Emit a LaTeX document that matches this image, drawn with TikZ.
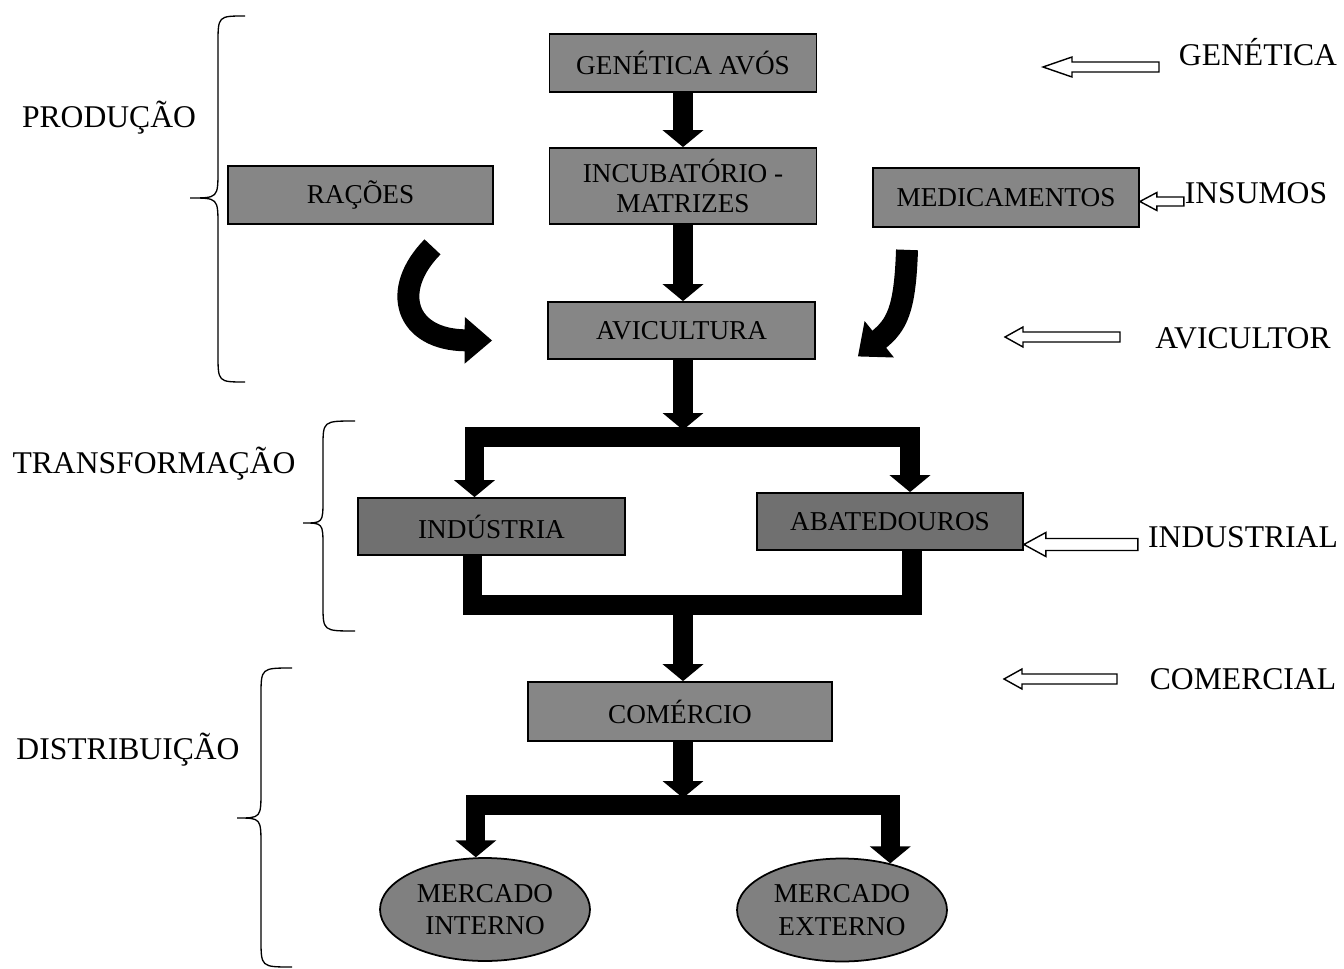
\documentclass[tikz,border=0pt]{standalone}
\usepackage{fontspec}
\setmainfont{Liberation Serif}
\usetikzlibrary{arrows.meta,shapes.geometric,calc}

\definecolor{boxgray}{RGB}{134,134,134}
\definecolor{boxdark}{RGB}{112,112,112}
\definecolor{ovalgray}{RGB}{128,128,128}

% open block arrow pointing left: #1 tip, #2 total length, #3 head length, #4 head half-height
\newcommand\hollowarrow[4]{%
  \draw[openarrow] (#1) -- ++(#3,-#4) -- ++(0,#4/2) -- ++(#2-#3,0) -- ++(0,#4)
    -- ++(-#2+#3,0) -- ++(0,#4/2) -- cycle;}

\begin{document}
\begin{tikzpicture}[x=0.02cm,y=-0.02cm,
  box/.style={draw=black,line width=1pt,fill=boxgray,inner sep=0pt,align=center,
    font=\fontsize{15.5}{17.5}\selectfont,minimum width=5.34cm,minimum height=1.16cm},
  oval/.style={ellipse,draw=black,line width=1pt,fill=ovalgray,inner sep=0pt,align=center,
    font=\fontsize{15.5}{18.5}\selectfont,minimum width=4.2cm,minimum height=2.06cm},
  sidelabel/.style={font=\fontsize{18}{21}\selectfont,inner sep=0pt},
  thickflow/.style={draw=black,line width=11pt,line join=miter},
  flowtip/.style={-{Triangle[width=8mm,length=3.4mm]}},
  bendtip/.style={-{Triangle[width=9mm,length=5.5mm]}},
  bracepath/.style={draw=black,line width=0.75pt},
  openarrow/.style={draw=black,fill=white,line width=0.8pt,line join=miter}]

\useasboundingbox (0,0) rectangle (1344,969);

% chain boxes
\node[box] (gen) at (683,63) {GENÉTICA AVÓS};
\node[box,minimum height=1.52cm] (inc) at (683,186) {INCUBATÓRIO -\\MATRIZES};
\node[box,minimum width=5.3cm] (rac) at (360.5,195) {RAÇÕES};
\node[box,minimum width=5.32cm,minimum height=1.18cm] (med) at (1006,197.5) {MEDICAMENTOS};
\node[box,minimum height=1.14cm] (avi) at (681.5,330.5) {AVICULTURA};
\node[box,fill=boxdark,minimum height=1.14cm] (ind) at (491.5,526.5) {INDÚSTRIA};
\node[box,fill=boxdark,minimum width=5.32cm,minimum height=1.14cm] (aba) at (890,521.5) {ABATEDOUROS};
\node[box,minimum width=6.08cm,minimum height=1.18cm] (com) at (680,711.5) {COMÉRCIO};
\node[oval] (int) at (485,909.5) {MERCADO\\INTERNO};
\node[oval] (ext) at (842,910) {MERCADO\\EXTERNO};

% stage labels and braces
\node[sidelabel] (lprod) at (109,118) {PRODUÇÃO};
\node[sidelabel] (ltrans) at (154,464) {TRANSFORMAÇÃO};
\node[sidelabel] (ldist) at (128,750) {DISTRIBUIÇÃO};

\draw[bracepath] (245,16) .. controls (218,16) .. (218,44) -- (218,170)
  .. controls (218,198) .. (190,198) .. controls (218,198) .. (218,226)
  -- (218,354) .. controls (218,382) .. (245,382);
\draw[bracepath] (355,421) .. controls (323,421) .. (323,447) -- (323,499)
  .. controls (323,523) .. (303,523) .. controls (323,523) .. (323,547)
  -- (323,605) .. controls (323,631) .. (355,631);
\draw[bracepath] (292,668) .. controls (261,668) .. (261,696) -- (261,790)
  .. controls (261,818) .. (237,818) .. controls (261,818) .. (261,846)
  -- (261,939) .. controls (261,967) .. (292,967);

% agent labels
\node[sidelabel] (lgen) at (1258,52) {GENÉTICA};
\node[sidelabel] (lins) at (1256,193) {INSUMOS};
\node[sidelabel] (lavi) at (1243,338) {AVICULTOR};
\node[sidelabel] (lindus) at (1243,537) {INDUSTRIAL};
\node[sidelabel] (lcom) at (1243,679) {COMERCIAL};

% open arrows from the agent labels
\coordinate (pgen) at (1043,67);
\coordinate (pavi) at (1005,337);
\coordinate (pcom) at (1004,679);
\hollowarrow{pgen}{116}{29}{10}
\hollowarrow{$(med.east)+(0,4)$}{44}{17}{9}
\hollowarrow{pavi}{115}{18}{10}
\hollowarrow{$(aba.east)+(0,23)$}{114}{22}{12}
\hollowarrow{pcom}{113}{18}{10}

% junctions of the main flow
\coordinate (j1) at (683,437);
\coordinate (j2) at (683,605);
\coordinate (j3) at (683,805);

% main flow
\draw[thickflow,flowtip] (gen) -- (inc);
\draw[thickflow,flowtip] (inc.south) -- (inc.south |- avi.north);
\draw[thickflow,flowtip] (avi.south -| j1) -- ($(j1)+(0,-7)$);
\draw[thickflow,flowtip] (j1) -| ($(ind.north)+(-17,0)$);
\draw[thickflow,flowtip] (j1) -| ($(aba.north)+(20,0)$);
\draw[thickflow] ($(ind.south)+(-19,0)$) |- (j2) -| ($(aba.south)+(22,0)$);
\draw[thickflow,flowtip] (j2) -- (j2 |- com.north);
\draw[thickflow,flowtip] (com.south -| j3) -- ($(j3)+(0,-7)$);
\draw[thickflow,flowtip] (j3) -| (int.100);
\draw[thickflow,flowtip] (j3) -| (ext.44);

% curved inputs
\draw[thickflow,line width=12.5pt,bendtip] ($(rac.south)+(72,22)$) .. controls (390,290) and (405,340) .. ($(avi.west)+(-55,10)$);
\draw[thickflow,line width=12.5pt,bendtip] ($(med.south)+(-99,22)$) .. controls (905,310) and (897,325) .. ($(avi.east)+(42,26)$);

\end{tikzpicture}
\end{document}
